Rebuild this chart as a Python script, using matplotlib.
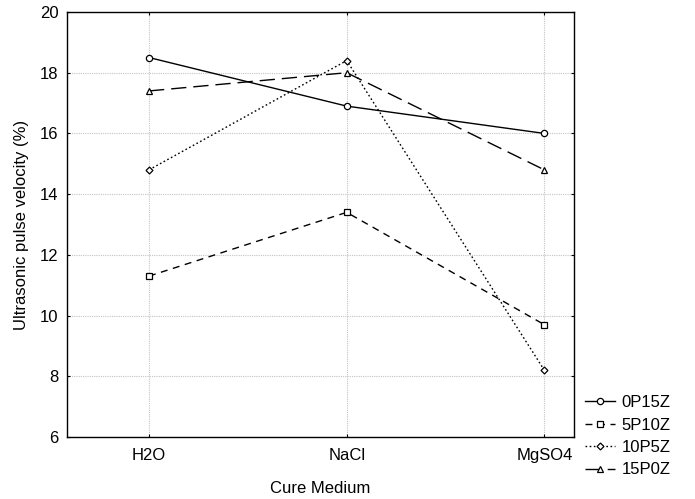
import numpy as np
import matplotlib.pyplot as plt

plt.rcParams['font.family'] = ['Liberation Sans', 'DejaVu Sans']

media = ['H2O', 'NaCl', 'MgSO4']
s_0p15z = [18.5, 16.9, 16.0]
s_5p10z = [11.3, 13.4, 9.7]
s_10p5z = [14.8, 18.4, 8.2]
s_15p0z = [17.4, 18.0, 14.8]

fig = plt.figure(figsize=(6.95, 4.99), dpi=100)
ax = fig.add_axes([67 / 695, 62 / 499, 507 / 695, 425 / 499])

x = np.arange(len(media))
kw = dict(color='black', lw=1, markersize=4.5, markerfacecolor='white',
          markeredgecolor='black', markeredgewidth=0.9)
ax.plot(x, s_0p15z, linestyle='-', marker='o', label='0P15Z', **kw)
ax.plot(x, s_5p10z, linestyle=(0, (5, 4)), marker='s', label='5P10Z', **kw)
ax.plot(x, s_10p5z, linestyle=(0, (1.2, 1.8)), marker='D',
        label='10P5Z', **dict(kw, markersize=3.5))
ax.plot(x, s_15p0z, linestyle=(0, (11, 5)), marker='^', label='15P0Z', **kw)

ax.set_xlim(-0.415, 2.15)
ax.set_ylim(6, 20)
ax.set_xticks(x)
ax.set_xticklabels(media)
ax.set_yticks(np.arange(6, 21, 2))
ax.tick_params(direction='in', labelsize=12, length=2.5, right=True, top=True)
ax.tick_params(axis='x', pad=8)
ax.tick_params(axis='y', pad=6)
ax.grid(True, color='#c4c4c4', linestyle=(0, (1, 1)), lw=0.8)
ax.set_axisbelow(True)
for sp in ax.spines.values():
    sp.set_linewidth(1)

ax.set_xlabel('Cure Medium', fontsize=12, labelpad=13)
ax.set_ylabel('Ultrasonic pulse velocity (%)', fontsize=12, labelpad=8)

ax.legend(loc='upper left', bbox_to_anchor=(585 / 695, (499 - 395) / 499),
          bbox_transform=fig.transFigure, frameon=False,
          fontsize=12, handlelength=1.8, handletextpad=0.4,
          labelspacing=0.45, borderaxespad=0, borderpad=0)

fig.savefig('out.png', dpi=100)
